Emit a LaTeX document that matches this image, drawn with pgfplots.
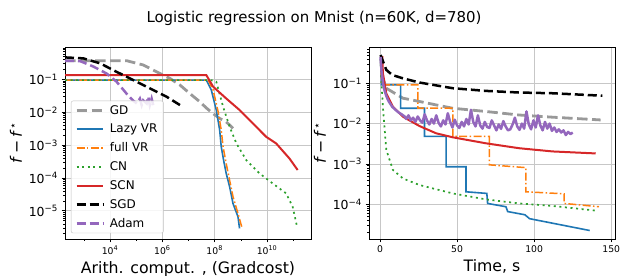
\documentclass[border=0pt]{standalone}
\usepackage{fontspec}
\setmainfont{DejaVu Sans}
\usepackage{pgfplots}
\pgfplotsset{compat=1.18}
\definecolor{tabblue}{HTML}{1F77B4}
\definecolor{taborange}{HTML}{FF7F0E}
\definecolor{tabgreen}{HTML}{2CA02C}
\definecolor{tabred}{HTML}{D62728}
\definecolor{tabpurple}{HTML}{9467BD}
\definecolor{gdgray}{HTML}{999999}
\pgfplotsset{
  mystyle/.style={
    scale only axis, width=246bp, height=192bp,
    tick align=outside, xtick pos=left, ytick pos=left,
    major tick length=3.5bp, minor tick length=2bp,
    grid=major, major grid style={draw=black!22, line width=0.8bp},
    axis line style={line width=0.8bp},
    tick style={black, line width=0.8bp},
    minor tick style={black, line width=0.6bp},
    xticklabel style={font=\fontsize{9.3}{10}\selectfont},
    yticklabel style={font=\fontsize{12.5}{14}\selectfont},
    label style={font=\fontsize{15.8}{18}\selectfont},
    legend image code/.code={\draw[##1] (0cm,0cm) -- (0.95cm,0cm);},
  },
  gdst/.style={gdgray, line width=2.8bp, dash pattern=on 10.5bp off 4.5bp},
  lazyst/.style={tabblue, line width=1.6bp},
  fullst/.style={taborange, line width=1.5bp, dash pattern=on 8bp off 2.4bp on 1.5bp off 2.4bp},
  cnst/.style={tabgreen, line width=1.7bp, dash pattern=on 2bp off 3.6bp},
  scnst/.style={tabred, line width=2bp},
  sgdst/.style={black, line width=2.5bp, dash pattern=on 9bp off 4bp},
  adamst/.style={tabpurple, line width=2.5bp, dash pattern=on 9bp off 4bp},
}
\begin{document}
\begin{tikzpicture}
\useasboundingbox (0,0) rectangle (623bp,276bp);
\node[font=\fontsize{15}{17}\selectfont] at (314bp,258bp) {Logistic regression on Mnist (n=60K, d=780)};
% ---------------- left axis ----------------
\begin{axis}[mystyle, at={(65bp,37bp)}, anchor=south west,
  xmode=log, ymode=log, log basis x=10, log basis y=10,
  xmin=190, xmax=4.8e11, ymin=1.38e-6, ymax=0.97,
  xtick={1e4,1e6,1e8,1e10},
  xticklabels={10\textsuperscript{4},10\textsuperscript{6},10\textsuperscript{8},10\textsuperscript{10}},
  minor xtick={1e3,1e5,1e7,1e9,1e11},
  ytick={1e-5,1e-4,1e-3,1e-2,1e-1},
  yticklabels={10\textsuperscript{−5},10\textsuperscript{−4},10\textsuperscript{−3},10\textsuperscript{−2},10\textsuperscript{−1}},
  minor ytick={2e-6,3e-6,4e-6,5e-6,6e-6,7e-6,8e-6,9e-6,2e-5,3e-5,4e-5,5e-5,6e-5,7e-5,8e-5,9e-5,2e-4,3e-4,4e-4,5e-4,6e-4,7e-4,8e-4,9e-4,2e-3,3e-3,4e-3,5e-3,6e-3,7e-3,8e-3,9e-3,2e-2,3e-2,4e-2,5e-2,6e-2,7e-2,8e-2,9e-2,2e-1,3e-1,4e-1,5e-1,6e-1,7e-1,8e-1,9e-1},
  xlabel={Arith. comput. , (Gradcost)},
  ylabel={\textit{f}\,−\,\textit{f}\textsuperscript{⋆}},
  legend cell align=left,
  legend style={at={(0.024,0.03)}, anchor=south west, font=\fontsize{12}{13}\selectfont,
    draw=black!25, rounded corners=2bp, fill=white, fill opacity=0.85, text opacity=1,
    row sep=4.4bp, inner xsep=4bp, inner ysep=2.5bp,
    /tikz/every odd column/.append style={column sep=3bp}},
]
\addplot[gdst] coordinates {(190,0.372) (4.27e4,0.372) (1.86e5,0.275) (6.03e5,0.170) (1.95e6,0.107) (4.68e6,0.0676) (1.12e7,0.0372) (2.69e7,0.0209) (4.79e7,0.0135) (8.71e7,0.0091) (1.55e8,0.00646) (2.75e8,0.00513) (5.01e8,0.00324)};
\addlegendentry{GD}
\addplot[lazyst] coordinates {(190,0.095) (4.79e7,0.095) (7.41e7,0.0479) (1.15e8,0.0117) (1.55e8,0.00288) (1.78e8,8.9e-4) (2.19e8,3.47e-4) (2.75e8,1.38e-4) (3.72e8,5.4e-5) (5.01e8,1.66e-5) (7.76e8,6.6e-6) (8.91e8,2.9e-6)};
\addlegendentry{Lazy VR}
\addplot[fullst] coordinates {(190,0.095) (5.62e7,0.095) (8.71e7,0.0479) (1.35e8,0.0105) (1.78e8,0.00288) (2.09e8,8.9e-4) (2.75e8,2.75e-4) (3.72e8,8.5e-5) (5.01e8,2.69e-5) (7.76e8,8.3e-6) (1.12e9,2.9e-6)};
\addlegendentry{full VR}
\addplot[cnst] coordinates {(190,0.095) (7.41e7,0.095) (1.15e8,0.085) (2.09e8,0.0148) (3.72e8,0.00363) (6.76e8,0.00112) (1.62e9,3.47e-4) (5.13e9,1.38e-4) (1.66e10,6.76e-5) (5.37e10,3.39e-5) (9.55e10,1.32e-5) (1.41e11,3.24e-6)};
\addlegendentry{CN}
\addplot[scnst] coordinates {(190,0.135) (4.79e7,0.135) (8.71e7,0.06) (2.75e8,0.0263) (8.91e8,0.0117) (2.88e9,0.00457) (9.33e9,0.00178) (2.24e10,0.00112) (7.24e10,3.89e-4) (1.48e11,1.74e-4)};
\addlegendentry{SCN}
\addplot[sgdst] coordinates {(190,0.468) (955,0.437) (4.17e3,0.309) (1.78e4,0.17) (7.76e4,0.0955) (3.31e5,0.0535) (1.45e6,0.0297) (5.37e6,0.0155)};
\addlegendentry{SGD}
\addplot[adamst] coordinates {(190,0.37) (724,0.36) (2.34e3,0.245) (7.41e3,0.151) (1.78e4,0.085) (4.27e4,0.037) (7.76e4,0.0224) (1.05e5,0.0186) (1.38e5,0.026) (1.62e5,0.0165) (1.86e5,0.023) (2.51e5,0.0186) (2.88e5,0.030) (3.31e5,0.0165) (3.89e5,0.026) (4.47e5,0.0165)};
\addlegendentry{Adam}
\end{axis}
% ---------------- right axis ----------------
\begin{axis}[mystyle, at={(369bp,37bp)}, anchor=south west,
  ymode=log, log basis y=10,
  xmin=-7.1, xmax=152.4, ymin=1.38e-5, ymax=0.79,
  xtick={0,50,100,150},
  ytick={1e-4,1e-3,1e-2,1e-1},
  yticklabels={10\textsuperscript{−4},10\textsuperscript{−3},10\textsuperscript{−2},10\textsuperscript{−1}},
  minor ytick={2e-5,3e-5,4e-5,5e-5,6e-5,7e-5,8e-5,9e-5,2e-4,3e-4,4e-4,5e-4,6e-4,7e-4,8e-4,9e-4,2e-3,3e-3,4e-3,5e-3,6e-3,7e-3,8e-3,9e-3,2e-2,3e-2,4e-2,5e-2,6e-2,7e-2,8e-2,9e-2,2e-1,3e-1,4e-1,5e-1,6e-1,7e-1},
  xticklabel style={/pgf/number format/assume math mode=true},
  xlabel={Time, s},
  ylabel={\textit{f}\,−\,\textit{f}\textsuperscript{⋆}},
]
\addplot[gdst] coordinates {(0.5,0.40) (1.5,0.15) (4.1,0.0752) (14.9,0.0425) (25.6,0.0353) (36.4,0.0290) (47.2,0.0240) (68.8,0.0199) (90.3,0.0163) (111.9,0.0144) (143.1,0.0123)};
\addplot[lazyst] coordinates {(0.5,0.45) (1.0,0.091) (13.4,0.091) (13.4,0.024) (28.9,0.024) (28.9,0.0048) (42.9,0.0048) (42.9,8.5e-4) (55.8,8.5e-4) (55.8,2.04e-4) (69.3,1.86e-4) (69.8,1.05e-4) (81.7,8.7e-5) (82.8,6.6e-5) (94,5.5e-5) (97,4.4e-5) (107,3.7e-5) (136,2.24e-5)};
\addplot[fullst] coordinates {(0.5,0.45) (1.0,0.091) (24.6,0.091) (24.6,0.024) (47.2,0.024) (47.2,0.0048) (70.9,0.0048) (70.9,9.5e-4) (94.6,8.1e-4) (94.6,2.04e-4) (119.4,1.82e-4) (119.4,1.05e-4) (142,8.7e-5)};
\addplot[cnst] coordinates {(0.5,0.30) (0.9,0.12) (1.9,0.0263) (4.1,0.00224) (8.4,7.1e-4) (14.9,4.37e-4) (25.6,3.0e-4) (47.2,1.86e-4) (68.8,1.32e-4) (90.3,1.05e-4) (111.9,9.1e-5) (141,6.9e-5)};
\addplot[scnst] coordinates {(1.5,0.47) (1.9,0.178) (4.1,0.056) (8.4,0.0263) (14.9,0.0148) (25.6,0.0087) (36.4,0.00575) (47.2,0.00457) (68.8,0.00324) (90.3,0.00245) (111.9,0.00204) (139.9,0.00182)};
\addplot[sgdst] coordinates {(0.4,0.5) (4.1,0.214) (8,0.16) (14.9,0.132) (25.6,0.104) (47.2,0.0752) (68.8,0.0645) (90.3,0.0588) (111.9,0.0564) (144.2,0.049)};
\addplot[tabpurple, line width=2.5bp, line join=round] coordinates {(0.4,0.45) (1,0.2) (2,0.1) (3,0.065) (4,0.05) (5,0.04) (6,0.034) (8,0.026) (10,0.022) (12,0.019) (14,0.017) (16,0.015)
 (17,0.013) (18.5,0.016) (20,0.012) (21.5,0.014) (23,0.011) (24.5,0.015) (26,0.012) (27.5,0.0105) (29,0.017) (30.5,0.012) (32,0.0095) (33.5,0.013) (35,0.010) (36.5,0.016) (38,0.0105) (39.5,0.0085) (41,0.012) (42.5,0.0095) (44,0.018) (45.5,0.011) (47,0.008) (48.5,0.0125) (50,0.009) (51.5,0.0078) (53,0.011) (54.5,0.0085) (56,0.013) (57.5,0.0095) (59,0.022) (60.5,0.011) (62,0.0085) (63.5,0.016) (65,0.009) (66.5,0.0075) (68,0.011) (69.5,0.0082) (71,0.0078) (72.5,0.012) (74,0.0090) (75.5,0.0068) (77,0.0095) (78.5,0.0074) (80,0.0115) (81.5,0.0085) (83,0.0068) (84.5,0.0072) (86,0.0095) (87.5,0.014) (89,0.0085) (90.5,0.0070) (92,0.0100) (93.5,0.0075) (95,0.020) (96.5,0.0095) (98,0.0072) (99.5,0.0120) (101,0.0080) (102.5,0.016) (104,0.0090) (105.5,0.0068) (107,0.0110) (108.5,0.0075) (110,0.0100) (111.5,0.0066) (113,0.0080) (114.5,0.0062) (116,0.0072) (117.5,0.0060) (119,0.0068) (120.5,0.0052) (122,0.0062) (123.5,0.0055) (125,0.0060)};
\end{axis}
\end{tikzpicture}
\end{document}
